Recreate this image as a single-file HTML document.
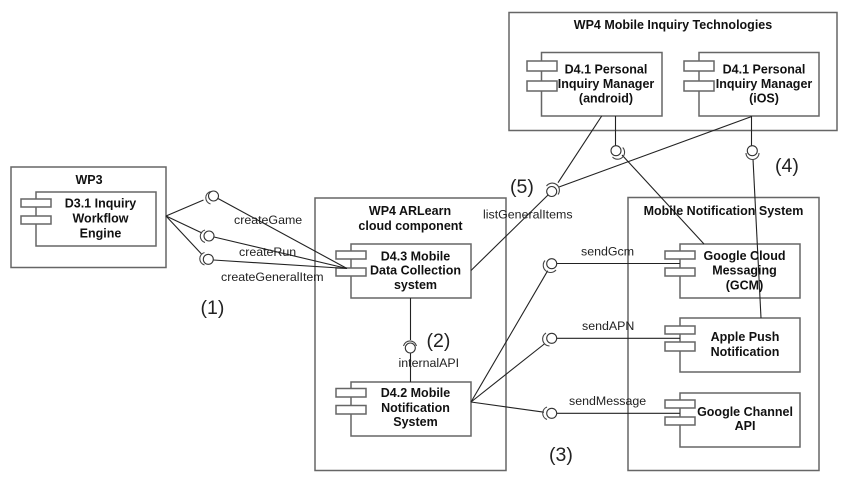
<!DOCTYPE html>
<html><head><meta charset="utf-8"><style>
html,body{margin:0;padding:0;background:#fff}
svg{display:block}
.b{fill:none;stroke:#666;stroke-width:1.5}
.t{fill:#fff;stroke:#666;stroke-width:1.5}
.l{fill:none;stroke:#222;stroke-width:1.1}
.c{fill:#fff;stroke:#333;stroke-width:1.1}
.a{fill:none;stroke:#444;stroke-width:1.1}
text{font-family:"Liberation Sans",sans-serif;fill:#111}
.h{font-size:12.5px;font-weight:bold;text-anchor:middle}
.n{font-size:12.4px;fill:#222}
.m{font-size:19.5px;fill:#222}
</style></head><body>
<svg width="848" height="483" viewBox="0 0 848 483" xmlns="http://www.w3.org/2000/svg">
<rect class="b" x="11" y="167" width="155" height="100.5"/>
<rect class="b" x="509" y="12.5" width="328" height="118"/>
<rect class="b" x="315" y="198" width="191" height="272.5"/>
<rect class="b" x="628" y="197.5" width="191" height="273"/>

<rect class="b" x="36" y="192" width="120" height="54"/>
<rect class="t" x="21" y="199" width="30" height="8"/><rect class="t" x="21" y="216" width="30" height="8"/>
<rect class="b" x="541.5" y="52.5" width="120.5" height="63.5"/>
<rect class="t" x="527" y="61" width="30" height="10"/><rect class="t" x="527" y="81" width="30" height="10"/>
<rect class="b" x="699" y="52.5" width="120" height="63.5"/>
<rect class="t" x="684" y="61" width="30" height="10"/><rect class="t" x="684" y="81" width="30" height="10"/>
<rect class="b" x="351" y="244" width="120" height="54"/>
<rect class="t" x="336" y="251" width="30" height="8"/><rect class="t" x="336" y="268" width="30" height="8"/>
<rect class="b" x="351" y="382" width="120" height="54"/>
<rect class="t" x="336" y="388.5" width="30" height="8.5"/><rect class="t" x="336" y="405.5" width="30" height="8.5"/>
<rect class="b" x="680" y="244" width="120" height="54"/>
<rect class="t" x="665" y="251" width="30" height="8"/><rect class="t" x="665" y="268" width="30" height="8"/>
<rect class="b" x="680" y="318" width="120" height="54"/>
<rect class="t" x="665" y="326" width="30" height="8"/><rect class="t" x="665" y="342" width="30" height="9"/>
<rect class="b" x="680" y="393" width="120" height="54"/>
<rect class="t" x="665" y="400" width="30" height="8"/><rect class="t" x="665" y="417" width="30" height="8"/>

<path class="l" d="M166 216L203.5 200"/><path class="l" d="M166 216L202 233"/><path class="l" d="M166 216L201.5 254"/>
<path class="l" d="M218 198.5L347 268.500"/><path class="l" d="M214 237L347 268.500"/><path class="l" d="M213.300 260L347 268.500"/>
<path class="l" d="M410.500 298V340"/><path class="l" d="M410.500 353V382"/>
<path class="l" d="M471 270.500L548 195"/>
<path class="l" d="M601.700 116L558 182.700"/><path class="l" d="M751.700 116.500L559 187"/>
<path class="l" d="M615.500 116V146"/><path class="l" d="M622 155L704 244"/>
<path class="l" d="M751.500 116V146"/><path class="l" d="M753 159L761 318"/>
<path class="l" d="M471 402L547.700 270.700"/><path class="l" d="M471 402L544.300 344"/><path class="l" d="M471 402L544 412.200"/>
<path class="l" d="M557 263.500H680"/><path class="l" d="M557 338.300H680"/><path class="l" d="M557 413.300H680"/>

<path class="a" d="M210.500 191.500A6.500 6.500 0 0 0 210.500 204"/><circle class="c" cx="213.500" cy="196" r="5"/>
<path class="a" d="M205 230A6.500 6.500 0 0 0 205 242.500"/><circle class="c" cx="209" cy="236" r="5"/>
<path class="a" d="M204.500 252.500A6.500 6.500 0 0 0 204.500 265"/><circle class="c" cx="208.300" cy="259.300" r="5"/>
<path class="a" d="M403.500 346A6.700 6.700 0 0 1 416.500 346"/><circle class="c" cx="410.300" cy="348" r="5"/>
<path class="a" d="M546.500 186A7 7 0 0 1 558 194.500"/><circle class="c" cx="551.700" cy="191.500" r="5"/>
<path class="a" d="M622.700 147.500A6.500 6.500 0 0 1 612.500 157"/><circle class="c" cx="616" cy="150.700" r="5"/>
<path class="a" d="M746 153A6.500 6.500 0 0 0 759 153"/><circle class="c" cx="752.300" cy="150.700" r="5"/>
<path class="a" d="M545 260.500A7 7 0 0 0 556 270"/><circle class="c" cx="551.700" cy="263.700" r="5"/>
<path class="a" d="M546 333A7 7 0 0 0 549.500 346"/><circle class="c" cx="551.700" cy="338.300" r="5"/>
<path class="a" d="M547 407A6.700 6.700 0 0 0 547 419.500"/><circle class="c" cx="551.700" cy="413.300" r="5"/>

<text class="h" x="89" y="184">WP3</text>
<text class="h" x="100.500" y="207.500">D3.1 Inquiry</text>
<text class="h" x="100.500" y="222.500">Workflow</text>
<text class="h" x="100.500" y="237.500">Engine</text>
<text class="h" x="673" y="29">WP4 Mobile Inquiry Technologies</text>
<text class="h" x="606" y="73.500">D4.1 Personal</text>
<text class="h" x="606" y="88">Inquiry Manager</text>
<text class="h" x="606" y="102.500">(android)</text>
<text class="h" x="764" y="73.500">D4.1 Personal</text>
<text class="h" x="764" y="88">Inquiry Manager</text>
<text class="h" x="764" y="102.500">(iOS)</text>
<text class="h" x="410" y="215">WP4 ARLearn</text>
<text class="h" x="410.500" y="230">cloud component</text>
<text class="h" x="415.500" y="260.500">D4.3 Mobile</text>
<text class="h" x="415.500" y="274.500">Data Collection</text>
<text class="h" x="415.500" y="289">system</text>
<text class="h" x="415.500" y="397">D4.2 Mobile</text>
<text class="h" x="415.500" y="412">Notification</text>
<text class="h" x="415.500" y="426">System</text>
<text class="h" x="723.500" y="215">Mobile Notification System</text>
<text class="h" x="744.500" y="260">Google Cloud</text>
<text class="h" x="744.500" y="274.500">Messaging</text>
<text class="h" x="744.500" y="289.500">(GCM)</text>
<text class="h" x="745" y="341">Apple Push</text>
<text class="h" x="745" y="356">Notification</text>
<text class="h" x="745" y="416">Google Channel</text>
<text class="h" x="745" y="430">API</text>

<text class="n" x="234" y="224">createGame</text>
<text class="n" x="239" y="256">createRun</text>
<text class="n" x="221" y="281">createGeneralItem</text>
<text class="n" x="398.500" y="367">internalAPI</text>
<text class="n" x="483" y="218.500">listGeneralItems</text>
<text class="n" x="581" y="255.500">sendGcm</text>
<text class="n" x="582" y="330">sendAPN</text>
<text class="n" x="569" y="405">sendMessage</text>

<text class="m" x="200.500" y="314">(1)</text>
<text class="m" x="426.500" y="347">(2)</text>
<text class="m" x="549" y="461">(3)</text>
<text class="m" x="775" y="172">(4)</text>
<text class="m" x="510" y="193">(5)</text>
</svg>
</body></html>
